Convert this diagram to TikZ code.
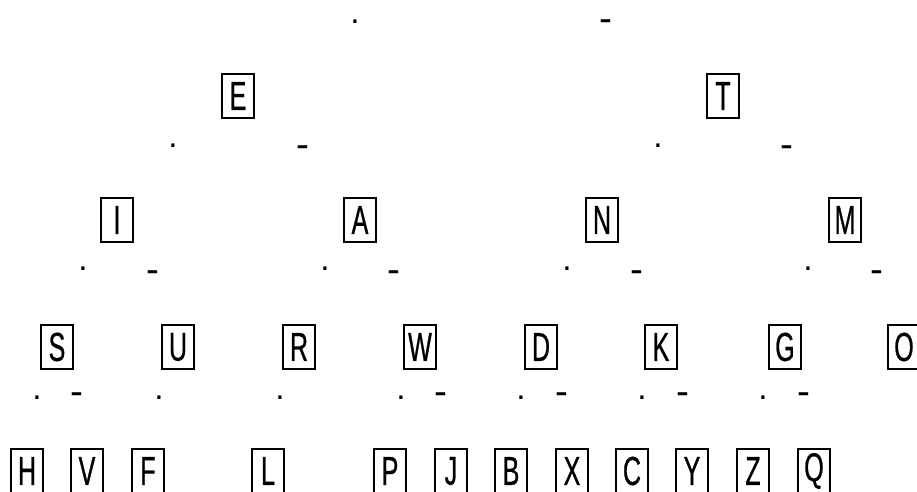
\documentclass[tikz,border=0pt]{standalone}
\usepackage{fontspec}
\setmainfont{Liberation Sans}
\newfontfamily\letterfont[FakeStretch=0.62,FakeBold=0.6]{Liberation Sans}

\begin{document}
\begin{tikzpicture}[
    x=0.02cm, y=-0.02cm,
    letter/.style={draw, line width=1.3pt, inner sep=0pt, minimum width=0.64cm, minimum height=0.88cm, font=\letterfont\fontsize{23}{23}\selectfont},
    dit/.style={inner sep=0pt, font=\fontsize{19}{19}\selectfont},
    dah/.style={inner sep=0pt, font=\fontsize{22}{22}\selectfont}
  ]
    \useasboundingbox (0,0) rectangle (917,492);

    % first signal
    \node[dit] (top-dot) at (355,22) {.};
    \node[dah] (top-dash) at (606,26) {-};

    % level 1
    \node[letter] (E) at (238,96) {E};
    \node[letter] (T) at (723,96) {T};
    \node[dit] (E-dot) at (173,146) {.};
    \node[dah] (E-dash) at (303,152) {-};
    \node[dit] (T-dot) at (658,146) {.};
    \node[dah] (T-dash) at (787,152) {-};

    % level 2
    \node[letter] (I) at (117,220) {I};
    \node[letter] (A) at (360,220) {A};
    \node[letter] (N) at (602,220) {N};
    \node[letter] (M) at (845,220) {M};
    \node[dit] (I-dot) at (83,269) {.};
    \node[dah] (I-dash) at (153,277) {-};
    \node[dit] (A-dot) at (325,269) {.};
    \node[dah] (A-dash) at (394,277) {-};
    \node[dit] (N-dot) at (567,269) {.};
    \node[dah] (N-dash) at (637,277) {-};
    \node[dit] (M-dot) at (808,269) {.};
    \node[dah] (M-dash) at (877,277) {-};

    % level 3
    \node[letter] (S) at (57,347) {S};
    \node[letter] (U) at (178,347) {U};
    \node[letter] (R) at (299,347) {R};
    \node[letter] (W) at (420,347) {W};
    \node[letter] (D) at (541,347) {D};
    \node[letter] (K) at (661,347) {K};
    \node[letter] (G) at (785,347) {G};
    \node[letter] (O) at (904,347) {O};
    \node[dit] (S-dot) at (37,398) {.};
    \node[dah] (S-dash) at (77,399) {-};
    \node[dit] (U-dot) at (159,398) {.};
    \node[dit] (R-dot) at (280,398) {.};
    \node[dit] (W-dot) at (401,398) {.};
    \node[dah] (W-dash) at (441,399) {-};
    \node[dit] (D-dot) at (521,398) {.};
    \node[dah] (D-dash) at (562,399) {-};
    \node[dit] (K-dot) at (642,398) {.};
    \node[dah] (K-dash) at (683,399) {-};
    \node[dit] (G-dot) at (763,398) {.};
    \node[dah] (G-dash) at (804,399) {-};

    % level 4
    \node[letter] (H) at (27,471) {H};
    \node[letter] (V) at (87,471) {V};
    \node[letter] (F) at (148,471) {F};
    \node[letter] (L) at (268,471) {L};
    \node[letter] (P) at (390,471) {P};
    \node[letter] (J) at (451,471) {J};
    \node[letter] (B) at (511,471) {B};
    \node[letter] (X) at (572,471) {X};
    \node[letter] (C) at (632,471) {C};
    \node[letter] (Y) at (692,471) {Y};
    \node[letter] (Z) at (753,471) {Z};
    \node[letter] (Q) at (814,471) {Q};
  \end{tikzpicture}
\end{document}
